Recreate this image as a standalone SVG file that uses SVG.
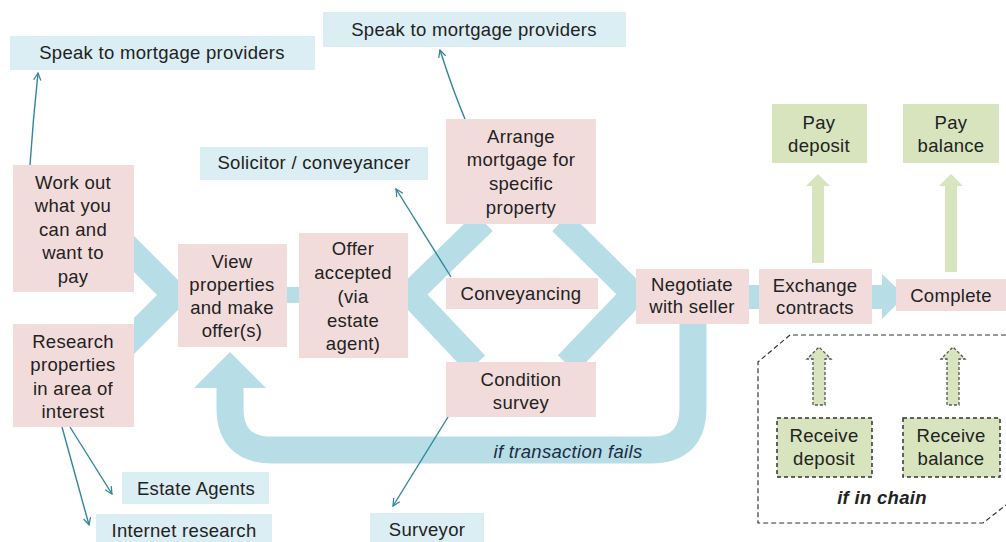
<svg xmlns="http://www.w3.org/2000/svg" width="1006" height="542" viewBox="0 0 1006 542">
<style>
text{font-family:"Liberation Sans",Arial,sans-serif;font-size:18.5px;fill:#222;text-anchor:middle;letter-spacing:0.3px}
.pink{fill:#f2dcdb}
.lbl{fill:#dbeef4}
.grn{fill:#d7e4bd}
.dgrn{fill:#d7e4bd;stroke:#333;stroke-width:1.5;stroke-dasharray:4,3}
.band{fill:none;stroke:#b7dde6;stroke-linejoin:miter}
.thin{fill:none;stroke:#31859c;stroke-width:1.4;marker-end:url(#v)}
.garr{fill:#d7e4bd}
.dgarr{fill:#d7e4bd;stroke:#555;stroke-width:1.3;stroke-dasharray:3,2}
</style>
<defs>
<marker id="v" viewBox="0 0 10 10" refX="9" refY="5" markerWidth="9" markerHeight="9" orient="auto" markerUnits="userSpaceOnUse">
<path d="M1,1 L9,5 L1,9" fill="none" stroke="#31859c" stroke-width="1.4"/>
</marker>
</defs>
<rect width="1006" height="542" fill="#fff"/>

<g id="connectors">
<polygon points="134,236 178,280 178,310 134,354 134,318 157,295 134,272" fill="#b7dde6"/>
<rect x="285" y="287" width="16" height="16" fill="#b7dde6"/>
<path class="band" stroke-width="25" d="M484,222 L410,294 L476,364"/>
<path class="band" stroke-width="25" d="M561,222 L634,294 L567,364"/>
<rect x="747" y="285" width="14" height="24" fill="#b7dde6"/>
<rect x="870" y="285" width="14" height="24" fill="#b7dde6"/>
<polygon points="882,274 882,319 905,296" fill="#b7dde6"/>
<path class="band" stroke-width="27" d="M693,322 L693,408 Q693,450 651,450 L272,450 Q230,450 230,408 L230,386"/>
<polygon points="194,388 266,388 230,352" fill="#b7dde6"/>
<path class="thin" d="M30,165 Q33,120 38,73"/>
<path class="thin" d="M465,119 Q452,88 440,50"/>
<path class="thin" d="M451,277 L396,189"/>
<path class="thin" d="M448,417 L393,506"/>
<path class="thin" d="M70,427 L112,494"/>
<path class="thin" d="M62,427 L89,525"/>
<polygon class="garr" points="812,263 812,186 806,186 818,174 830,186 824,186 824,263"/>
<polygon class="garr" points="945,272 945,186 939,186 951,174 963,186 957,186 957,272"/>
<polygon class="dgarr" points="813,405 813,359 807,359 819,347 831,359 825,359 825,405"/>
<polygon class="dgarr" points="947,405 947,359 941,359 953,347 965,359 959,359 959,405"/>
<path d="M1006,335 L790,335 L758,362 L758,523 L983,523 L1006,505" fill="none" stroke="#333" stroke-width="1.2" stroke-dasharray="5,3"/>
<text x="568" y="458" style="font-style:italic;fill:#1c2c44">if transaction fails</text>
<text x="882" y="504" style="font-style:italic;font-weight:bold">if in chain</text>
</g>

<g id="speak1"><rect class="lbl" x="10" y="36" width="305" height="34"/><text x="162" y="59">Speak to mortgage providers</text></g>
<g id="speak2"><rect class="lbl" x="323" y="12" width="303" height="35"/><text x="474" y="36">Speak to mortgage providers</text></g>
<g id="solicitor"><rect class="lbl" x="200" y="147" width="228" height="33"/><text x="314" y="169">Solicitor / conveyancer</text></g>
<g id="estate"><rect class="lbl" x="122" y="472" width="147" height="32"/><text x="196" y="495">Estate Agents</text></g>
<g id="internet"><rect class="lbl" x="96" y="514" width="176" height="28"/><text x="184" y="537">Internet research</text></g>
<g id="surveyor"><rect class="lbl" x="370" y="513" width="114" height="29"/><text x="427" y="536">Surveyor</text></g>

<g id="workout"><rect class="pink" x="13" y="165" width="121" height="127"/>
<text x="73" y="189">Work out</text><text x="73" y="212">what you</text><text x="73" y="236">can and</text><text x="73" y="259">want to</text><text x="73" y="283">pay</text></g>
<g id="research"><rect class="pink" x="13" y="324" width="121" height="103"/>
<text x="73" y="348">Research</text><text x="73" y="371">properties</text><text x="73" y="395">in area of</text><text x="73" y="418">interest</text></g>
<g id="view"><rect class="pink" x="178" y="244" width="109" height="103"/>
<text x="232" y="268">View</text><text x="232" y="291">properties</text><text x="232" y="314">and make</text><text x="232" y="337">offer(s)</text></g>
<g id="offer"><rect class="pink" x="299" y="233" width="109" height="125"/>
<text x="353" y="255">Offer</text><text x="353" y="279">accepted</text><text x="353" y="303">(via</text><text x="353" y="327">estate</text><text x="353" y="350">agent)</text></g>
<g id="arrange"><rect class="pink" x="446" y="119" width="150" height="105"/>
<text x="521" y="143">Arrange</text><text x="521" y="166">mortgage for</text><text x="521" y="190">specific</text><text x="521" y="214">property</text></g>
<g id="conveyancing"><rect class="pink" x="446" y="278" width="152" height="31"/><text x="521" y="300">Conveyancing</text></g>
<g id="condition"><rect class="pink" x="446" y="362" width="150" height="55"/>
<text x="521" y="386">Condition</text><text x="521" y="409">survey</text></g>
<g id="negotiate"><rect class="pink" x="636" y="269" width="113" height="55"/>
<text x="692" y="291">Negotiate</text><text x="692" y="313">with seller</text></g>
<g id="exchange"><rect class="pink" x="759" y="269" width="113" height="55"/>
<text x="815" y="292">Exchange</text><text x="815" y="314">contracts</text></g>
<g id="complete"><rect class="pink" x="896" y="279" width="110" height="32"/><text x="951" y="302">Complete</text></g>
<g id="paydeposit"><rect class="grn" x="772" y="104" width="95" height="59"/>
<text x="819" y="129">Pay</text><text x="819" y="152">deposit</text></g>
<g id="paybalance"><rect class="grn" x="903" y="104" width="96" height="59"/>
<text x="951" y="129">Pay</text><text x="951" y="152">balance</text></g>
<g id="recdeposit"><rect class="dgrn" x="777" y="418" width="95" height="59"/>
<text x="824" y="442">Receive</text><text x="824" y="465">deposit</text></g>
<g id="recbalance"><rect class="dgrn" x="903" y="418" width="97" height="59"/>
<text x="951" y="442">Receive</text><text x="951" y="465">balance</text></g>
</svg>
